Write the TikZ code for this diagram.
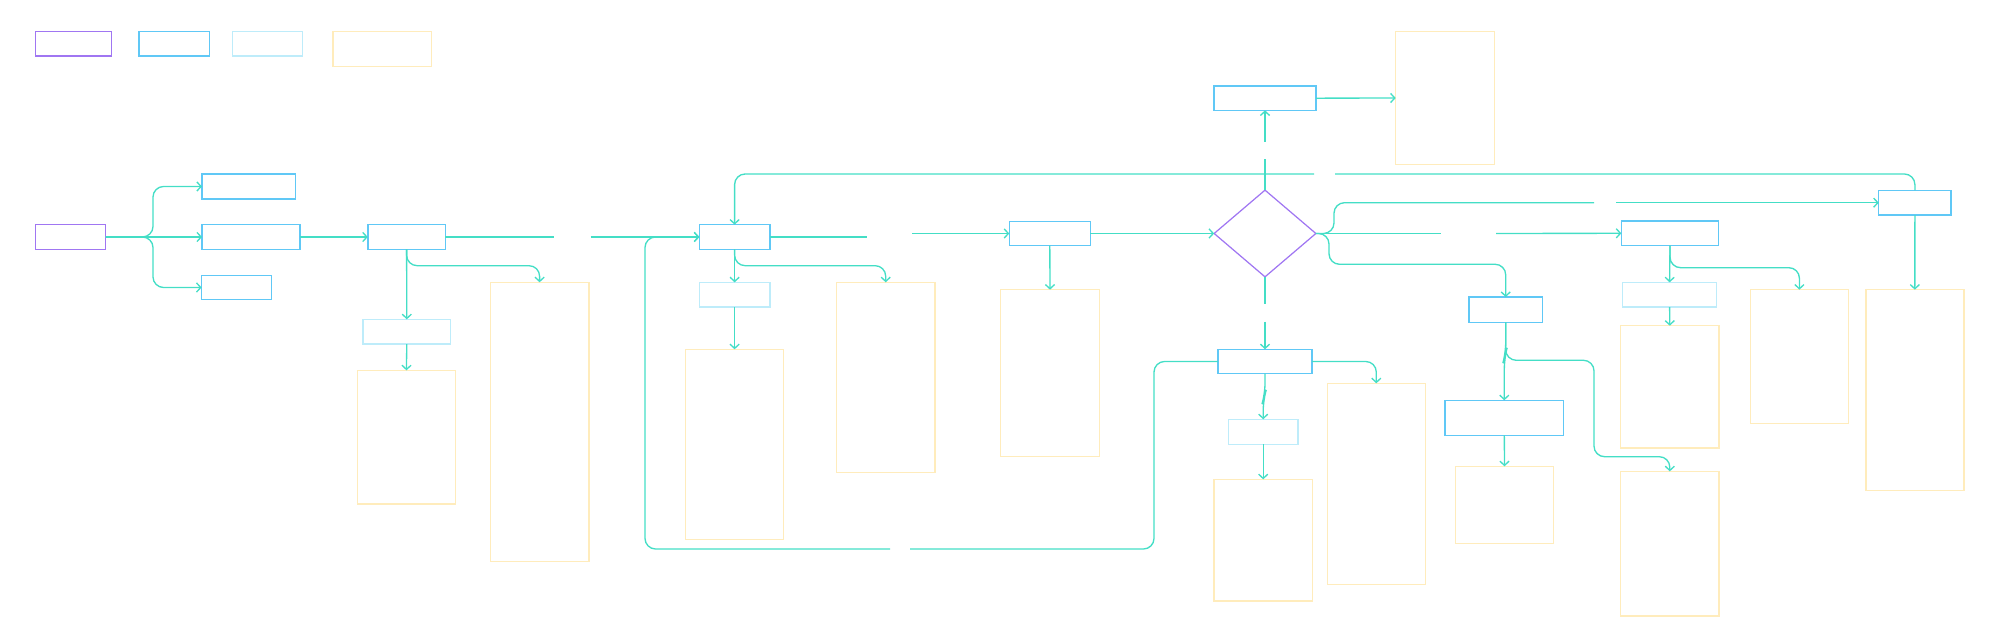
\documentclass[tikz,border=0pt]{standalone}
\usetikzlibrary{shapes.geometric,arrows.meta}

\definecolor{termline}{RGB}{160,118,242}
\definecolor{procline}{RGB}{96,200,246}
\definecolor{subline}{RGB}{190,236,250}
\definecolor{noteline}{RGB}{255,236,188}
\definecolor{linkline}{RGB}{68,222,198}

\begin{document}
\begin{tikzpicture}[x=0.01cm,y=-0.01cm]
		\tikzset{wh/.style 2 args = {minimum width=#1*0.01cm, minimum height=#2*0.01cm},
			box/.style = {shape=rectangle, inner sep=0pt, outer sep=0pt, line width=0.4pt},
			term/.style = {box, draw=termline},
			proc/.style = {box, draw=procline},
			sub/.style = {box, draw=subline},
			note/.style = {box, draw=noteline},
			choice/.style = {shape=diamond, draw=termline, inner sep=0pt, outer sep=0pt, line width=0.35pt},
			gap/.style = {shape=rectangle, inner sep=0pt, outer sep=0pt},
			link/.style = {draw=linkline, line width=0.38pt, rounded corners=3pt},
			arr/.style = {link, -{Straight Barb[length=1.2pt,width=2.6pt]}}}

		\useasboundingbox (0,0) rectangle (2000,625);

		% legend
		\node[term, wh={75.8}{24.7}] (L_1) at (73.6,43.7) {};
		\node[proc, wh={70.5}{24.7}] (L_2) at (174.2,43.7) {};
		\node[sub, wh={69.6}{24.7}] (L_3) at (267.4,43.7) {};
		\node[note, wh={98.6}{35.4}] (L_4) at (382.3,49) {};

		\node[term, wh={70}{24.6}] (A_1) at (70.7,237) {};
		\node[proc, wh={93.6}{25}] (B_1) at (248.8,186.5) {};
		\node[proc, wh={97.8}{24.6}] (B_2) at (251,237) {};
		\node[proc, wh={69.7}{24.4}] (B_3) at (236.5,287.5) {};

		\node[proc, wh={77.5}{24.6}] (S_2) at (406.6,237) {};
		\node[sub, wh={87.6}{24.7}] (S_3) at (406.8,331.7) {};
		\node[note, wh={98.4}{133.7}] (Y_1) at (406.4,437.2) {};
		\node[note, wh={98.4}{279}] (Y_2) at (539.6,421.8) {};

		\node[proc, wh={70.4}{24.6}] (C_1) at (734.6,237) {};
		\node[sub, wh={70.4}{24.7}] (S_4) at (734.6,294.7) {};
		\node[note, wh={98}{190}] (Y_5) at (734.6,444.3) {};
		\node[note, wh={98.6}{190}] (Y_3) at (885.7,377.3) {};

		\node[proc, wh={81}{24.4}] (E_2) at (1049.8,233.5) {};
		\node[note, wh={98.6}{166.6}] (Y_4) at (1050,373) {};

		\node[choice, wh={101.7}{86.7}] (Q_1) at (1265,233.5) {};
		\node[proc, wh={101.7}{24.3}] (D_1) at (1265,98.2) {};
		\node[note, wh={98.6}{133.4}] (Y_8) at (1445,98) {};

		\node[proc, wh={93.7}{24.4}] (E_1) at (1265,361.5) {};
		\node[sub, wh={69.7}{25}] (S_5) at (1263.2,431.8) {};
		\node[note, wh={98.3}{121.7}] (Y_6) at (1263.2,540.2) {};
		\node[note, wh={98}{201}] (Y_7) at (1376.3,483.8) {};

		\node[proc, wh={73.5}{25.3}] (H_1) at (1505.7,309.7) {};
		\node[proc, wh={118.5}{35}] (I_1) at (1504.3,417.8) {};
		\node[note, wh={98.1}{77}] (Y_13) at (1504.5,504.8) {};
		\node[note, wh={98.5}{144.7}] (Y_12) at (1669.8,543.7) {};

		\node[proc, wh={97.3}{24.7}] (G_1) at (1670,233.3) {};
		\node[sub, wh={94.3}{24.7}] (S_6) at (1669.6,294.7) {};
		\node[note, wh={98.5}{122.3}] (Y_10) at (1669.8,386.9) {};
		\node[note, wh={98}{133.6}] (Y_9) at (1799.4,356.5) {};

		\node[proc, wh={72.3}{24.7}] (F_1) at (1914.9,202.7) {};
		\node[note, wh={98}{201}] (Y_11) at (1914.8,390.2) {};

		% empty edge labels
		\node[gap, wh={37.2}{2}] (lbl_1) at (572.1,237) {};
		\node[gap, wh={45}{2}] (lbl_2) at (889.5,235) {};
		\node[gap, wh={2}{17.3}] (lbl_3) at (1265,150.4) {};
		\node[gap, wh={21}{2}] (lbl_4) at (1324.5,174) {};
		\node[gap, wh={22}{2}] (lbl_5) at (1605,202.7) {};
		\node[gap, wh={55}{2}] (lbl_6) at (1468.5,233.5) {};
		\node[gap, wh={2}{17.7}] (lbl_7) at (1265,312.9) {};
		\node[gap, wh={20}{2}] (lbl_8) at (900,549) {};



		\draw[arr] (A_1.east) -- (153,237) |- (B_1.west);
		\draw[arr] (A_1.east) -- (B_2.west);
		\draw[arr] (A_1.east) -- (153,237) |- (B_3.west);
		\draw[arr] (B_2.east) -- (S_2.west);

		\draw[link] (S_2.east) -- (lbl_1.west);
		\draw[arr] (lbl_1.east) -- (C_1.west);
		\draw[arr] (S_2.south) -- (S_3.north);
		\draw[arr] (S_2.south) |- (470,265.7) -| (Y_2.north);
		\draw[arr] (S_3.south) -- (Y_1.north);

		\draw[arr] (C_1.south) -- (S_4.north);
		\draw[arr] (C_1.south) |- (800,265.7) -| (Y_3.north);
		\draw[arr] (S_4.south) -- (Y_5.north);
		\draw[link] (C_1.east) -- (C_1.east -| lbl_2.west);
		\draw[arr] (lbl_2.east |- E_2.west) -- (E_2.west);

		\draw[arr] (E_2.south) -- (Y_4.north);
		\draw[arr] (E_2.east) -- (Q_1.west);

		\draw[link] (Q_1.north) -- (lbl_3.south);
		\draw[arr] (lbl_3.north) -- (D_1.south);
		\draw[arr] (D_1.east) -- (Y_8.west);

		\draw[link] (F_1.north) -- (1914.9,174) -- (lbl_4.east);
		\draw[arr] (lbl_4.west) -- (734.6,174) -- (C_1.north);

		\draw[link] (Q_1.east) -- (1334,233.5) |- (lbl_5.west);
		\draw[arr] (lbl_5.east) -- (F_1.west);
		\draw[link] (Q_1.east) -- (lbl_6.west);
		\draw[arr] (lbl_6.east) -- (G_1.west);
		\draw[arr] (Q_1.east) -- (1329,233.5) |- (1450,264.3) -| (H_1.north);
		\draw[link] (Q_1.south) -- (lbl_7.north);
		\draw[arr] (lbl_7.south) -- (E_1.north);

		\draw[arr] (E_1.south) -- (1265,394) -- (1263.2,400) -- (S_5.north);
		\draw[arr] (S_5.south) -- (Y_6.north);
		\draw[arr] (E_1.east) -| (Y_7.north);
		\draw[link] (E_1.west) -- (1154,361.5) -- (1154,549) -- (lbl_8.east);
		\draw[arr] (lbl_8.west) -- (645,549) -- (645,237) -- (C_1.west);

		\draw[arr] (H_1.south) -- (1505.7,353) -- (1504.3,358) -- (I_1.north);
		\draw[arr] (H_1.south) |- (1594,360.3) -- (1594,456.7) -| (Y_12.north);
		\draw[arr] (I_1.south) -- (Y_13.north);

		\draw[arr] (G_1.south) -- (S_6.north);
		\draw[arr] (G_1.south) |- (1740,267.7) -| (Y_9.north);
		\draw[arr] (S_6.south) -- (Y_10.north);
		\draw[arr] (F_1.south) -- (Y_11.north);



	\end{tikzpicture}
\end{document}
